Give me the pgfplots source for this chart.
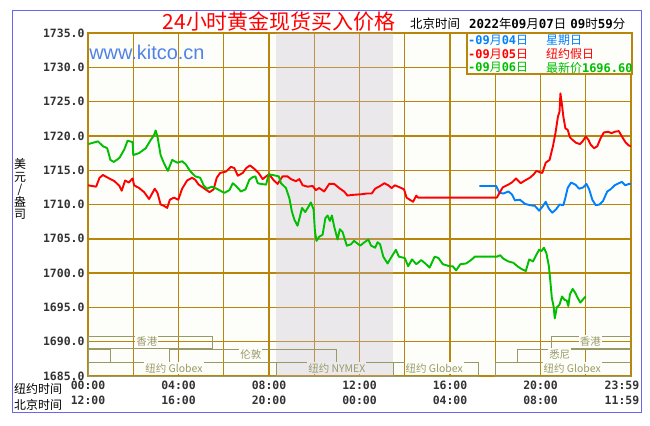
\documentclass[border=0pt]{standalone}
\usepackage{fontspec}
\setmainfont{Liberation Sans}
\newfontfamily\cjk{Noto Sans CJK SC}
\newfontfamily\tickf{DejaVu Sans Mono}
\usepackage{pgfplots}
\pgfplotsset{compat=1.18}

\definecolor{gridc}{RGB}{184,134,11}
\definecolor{sess}{RGB}{153,153,102}
\definecolor{shade}{RGB}{236,233,237}
\definecolor{shadeov}{RGB}{196,184,206}
\definecolor{plotbg}{RGB}{253,254,250}
\definecolor{c04}{RGB}{0,128,255}
\definecolor{c05}{RGB}{255,0,0}
\definecolor{c06}{RGB}{0,190,0}
\definecolor{framec}{RGB}{102,102,240}
\definecolor{kit}{RGB}{80,130,230}
\definecolor{tickc}{RGB}{51,51,51}

\newcommand\fs[1]{\fontsize{#1}{#1}\selectfont}
\newcommand\dg[1]{{\tickf\bfseries #1}}

\begin{document}
\begin{tikzpicture}[x=1bp,y=1bp]
\fill[white] (0,0) rectangle (650,425);
\draw[framec, line width=1bp] (12,13) rectangle (641,414);

\begin{axis}[
  at={(88bp,49bp)}, anchor=south west,
  width=543bp, height=343bp, scale only axis,
  xmin=0, xmax=24, ymin=1685, ymax=1735,
  axis background/.style={fill=plotbg},
  axis line style={gridc, line width=1.8bp},
  grid=major, grid style={gridc, line width=1.4bp},
  tick style={draw=none},
  xtick={0,2,...,24}, xticklabels={},
  extra x ticks={0,4,8,12,16,20,23.6},
  extra x tick labels={{00:00\\12:00},{04:00\\16:00},{08:00\\20:00},{12:00\\00:00},{16:00\\04:00},{20:00\\08:00},{23:59\\11:59}},
  extra x tick style={grid=none,
    xticklabel style={align=center, text=tickc, yshift=-1bp,
      font=\tickf\bfseries\fontsize{11.5}{16}\selectfont}},
  ytick={1685,1690,...,1735},
  yticklabel style={text=tickc, font=\tickf\bfseries\fs{11.5}},
  /pgf/number format/fixed,
  /pgf/number format/fixed zerofill,
  /pgf/number format/precision=1,
  /pgf/number format/1000 sep={},
  /pgf/number format/assume math mode=true,
]

% NYMEX trading hours (translucent so the grid shows through)
\addplot[fill=shadeov, fill opacity=0.3, draw=none]
  coordinates {(8.33,1685) (13.5,1685) (13.5,1735) (8.33,1735)} -- cycle;

% market sessions
\draw[sess, line width=1bp] (axis cs:0,1689) rectangle (axis cs:5.5,1690.75);
\draw[sess, line width=1bp] (axis cs:20.5,1689) rectangle (axis cs:24,1690.75);
\draw[sess, line width=1bp] (axis cs:0,1687) rectangle (axis cs:1,1688.9);
\draw[sess, line width=1bp] (axis cs:3.6,1687) rectangle (axis cs:11,1688.9);
\draw[sess, line width=1bp] (axis cs:19,1687) rectangle (axis cs:24,1688.9);
\draw[sess, line width=1bp] (axis cs:0,1685) rectangle (axis cs:8.33,1686.9);
\draw[sess, line width=1bp] (axis cs:8.33,1685) rectangle (axis cs:13.5,1686.9);
\draw[sess, line width=1bp] (axis cs:13.5,1685) rectangle (axis cs:17.25,1686.9);
\draw[sess, line width=1bp] (axis cs:18,1685) rectangle (axis cs:24,1686.9);
\tikzset{sl/.style={font=\cjk\fs{10.5}, text=sess, fill=plotbg, inner xsep=1bp, inner ysep=1.5bp}}
\node[sl] at (axis cs:2.6,1690.0) {香港};
\node[sl] at (axis cs:22.2,1690.0) {香港};
\node[sl] at (axis cs:7.2,1688.1) {伦敦};
\node[sl] at (axis cs:20.85,1688.1) {悉尼};
\node[sl] at (axis cs:3.8,1686.15) {纽约 Globex};
\node[sl, fill=shade] at (axis cs:11.0,1686.15) {纽约 NYMEX};
\node[sl] at (axis cs:15.3,1686.15) {纽约 Globex};
\node[sl] at (axis cs:21.4,1686.15) {纽约 Globex};

% 09月04日
\addplot[c04, line width=1.9bp, line join=round] coordinates {
(17.3,1712.7) (18.04,1712.7) (18.19,1711.7) (18.36,1711.6) (18.58,1711.9) (18.73,1711.5)
(18.87,1710.6) (19.09,1710.7) (19.31,1710.1) (19.53,1709.9) (19.75,1709.8) (19.94,1709.1)
(20.11,1709.8) (20.23,1710.4) (20.37,1709.4) (20.52,1708.8) (20.69,1709.3) (20.84,1710.0)
(21.01,1709.9) (21.1,1711.0) (21.2,1712.4) (21.35,1713.2) (21.54,1712.9) (21.71,1712.3)
(21.89,1712.5) (22.03,1713.0) (22.15,1712.2) (22.29,1710.7) (22.44,1709.9) (22.61,1710.0)
(22.76,1710.5) (22.95,1711.9) (23.09,1712.2) (23.28,1712.8) (23.46,1713.1) (23.6,1713.3)
(23.75,1712.8) (23.9,1713.0) (24,1713.0)
};

% 09月05日
\addplot[c05, line width=1.9bp, line join=round] coordinates {
(0,1712.8) (0.36,1712.6) (0.51,1713.9) (0.66,1714.3) (0.88,1713.9) (1.17,1713.4) (1.39,1712.7)
(1.49,1712.0) (1.64,1713.5) (1.8,1713.2) (1.97,1713.8) (2.04,1712.8) (2.26,1712.4) (2.48,1711.8)
(2.7,1710.8) (2.85,1711.7) (2.95,1712.3) (3.07,1711.7) (3.21,1710.0) (3.36,1709.8) (3.5,1709.5)
(3.62,1710.7) (3.8,1711.0) (3.99,1710.7) (4.16,1712.3) (4.38,1713.5) (4.6,1713.9) (4.74,1713.6)
(4.89,1712.9) (5.11,1712.4) (5.37,1711.8) (5.55,1712.2) (5.69,1713.9) (5.84,1714.6) (6.1,1714.8)
(6.32,1715.5) (6.47,1715.3) (6.62,1714.2) (6.84,1714.6) (6.99,1715.3) (7.16,1715.7) (7.35,1715.2)
(7.54,1714.6) (7.72,1713.7) (7.87,1714.1) (8.01,1714.4) (8.19,1713.6) (8.38,1713.0) (8.6,1714.1)
(8.82,1714.1) (8.97,1713.7) (9.19,1713.4) (9.34,1713.7) (9.49,1712.8) (9.71,1712.6) (9.93,1712.7)
(10.07,1712.1) (10.22,1712.4) (10.44,1711.9) (10.66,1713.0) (10.88,1713.0) (11.1,1712.4)
(11.32,1711.9) (11.47,1711.3) (11.69,1711.4) (12.1,1711.5) (12.32,1711.6) (12.54,1711.6)
(12.69,1712.3) (12.91,1712.7) (13.1,1713.1) (13.27,1712.8) (13.42,1712.4) (13.56,1712.8)
(13.78,1712.5) (13.97,1712.2) (14.08,1711.0) (14.22,1710.7) (14.37,1710.4) (14.51,1711.3)
(14.59,1711.0) (18.07,1711.0) (18.19,1711.7) (18.33,1712.5) (18.58,1712.9) (18.73,1713.2)
(18.92,1713.8) (19.12,1713.1) (19.31,1713.5) (19.53,1713.9) (19.7,1714.4) (19.82,1714.9)
(19.97,1714.7) (20.08,1714.6) (20.23,1716.1) (20.4,1716.5) (20.55,1718.5) (20.66,1720.4)
(20.77,1722.8) (20.84,1723.5) (20.88,1726.2) (20.95,1724.5) (21.01,1722.8) (21.1,1721.1)
(21.2,1720.9) (21.3,1719.8) (21.42,1719.4) (21.57,1719.0) (21.74,1718.8) (21.86,1719.2)
(22.0,1719.9) (22.12,1719.4) (22.22,1718.7) (22.37,1718.2) (22.51,1718.5) (22.66,1719.7)
(22.8,1720.5) (22.99,1720.6) (23.14,1720.4) (23.28,1720.6) (23.46,1720.7) (23.6,1719.9)
(23.75,1719.1) (23.9,1718.6) (24,1718.5)
};

% 09月06日
\addplot[c06, line width=1.9bp, line join=round] coordinates {
(0,1718.8) (0.44,1719.2) (0.66,1718.5) (0.85,1718.2) (0.99,1716.5) (1.14,1716.2) (1.39,1716.8)
(1.6,1718.0) (1.75,1719.3) (1.97,1719.1) (2.0,1717.2) (2.26,1717.5) (2.55,1718.2) (2.77,1719.4)
(2.92,1720.1) (2.99,1720.8) (3.07,1719.9) (3.21,1717.2) (3.36,1716.0) (3.53,1714.9) (3.72,1716.5)
(3.94,1716.1) (4.16,1716.3) (4.31,1715.9) (4.53,1714.8) (4.74,1714.1) (4.96,1713.9) (5.11,1712.8)
(5.26,1712.3) (5.47,1712.6) (5.69,1712.3) (5.91,1711.9) (6.03,1711.7) (6.25,1712.1) (6.4,1713.1)
(6.54,1712.7) (6.76,1711.9) (6.96,1712.2) (7.13,1713.6) (7.28,1714.0) (7.4,1714.1) (7.5,1713.1)
(7.65,1713.0) (7.87,1712.9) (7.99,1714.4) (8.16,1714.3) (8.43,1714.1) (8.53,1713.1) (8.75,1712.4)
(8.9,1710.9) (9.01,1709.0) (9.12,1707.8) (9.26,1706.9) (9.37,1708.3) (9.46,1709.5) (9.6,1708.9)
(9.75,1709.7) (9.85,1710.3) (9.97,1709.3) (10.03,1706.1) (10.1,1704.7) (10.22,1705.3)
(10.37,1705.6) (10.49,1708.0) (10.59,1708.4) (10.69,1707.6) (10.78,1708.4) (10.88,1706.8)
(11.03,1704.9) (11.13,1706.4) (11.25,1706.0) (11.44,1704.0) (11.62,1704.2) (11.76,1704.7)
(12.03,1704.0) (12.18,1704.4) (12.39,1704.9) (12.51,1704.0) (12.69,1703.7) (12.8,1704.5)
(12.91,1704.2) (13.05,1702.4) (13.24,1701.4) (13.42,1702.4) (13.61,1703.4) (13.74,1702.4)
(14.0,1702.2) (14.15,1701.0) (14.32,1702.0) (14.51,1701.3) (14.73,1701.9) (14.91,1701.4)
(15.1,1700.8) (15.32,1702.4) (15.49,1702.2) (15.68,1701.3) (15.98,1701.0) (16.12,1701.0)
(16.27,1700.4) (16.46,1701.3) (16.71,1701.4) (16.93,1701.9) (17.1,1702.4) (18.07,1702.4)
(18.22,1702.6) (18.36,1702.1) (18.58,1701.7) (18.8,1701.5) (19.02,1700.9) (19.16,1700.6)
(19.35,1700.3) (19.5,1702.0) (19.67,1701.7) (19.82,1702.7) (19.94,1703.4) (20.04,1703.2)
(20.15,1703.7) (20.26,1702.9) (20.37,1701.0) (20.43,1699.0) (20.5,1696.4) (20.58,1695.1)
(20.63,1693.4) (20.72,1695.0) (20.84,1695.4) (20.95,1696.6) (21.06,1696.1) (21.16,1696.0)
(21.23,1695.2) (21.3,1696.9) (21.42,1697.7) (21.54,1697.1) (21.64,1696.4) (21.76,1695.7)
(21.86,1696.1) (22.0,1696.6)
};

\node[anchor=west, font=\fs{20}, text=kit, inner sep=0pt] at (axis cs:0.05,1732.2) {www.kitco.cn};
\end{axis}

% title and time stamp
\node[font=\cjk\fs{21}, text=c05] at (279,403) {24小时黄金现货买入价格};
\node[anchor=west, font=\fs{12.5}, inner sep=0pt] at (410,401)
  {{\cjk 北京时间}\hspace{9bp}\dg{2022}{\cjk 年}\dg{09}{\cjk 月}\dg{07}{\cjk 日}\hspace{4bp}\dg{09}{\cjk 时}\dg{59}{\cjk 分}};

% legend
\draw[gridc, line width=1.4bp, fill=plotbg] (467,351) rectangle (632,392);
\begin{scope}[every node/.style={anchor=west, inner sep=0pt, font=\fs{12}}]
\node[text=c04] at (468,384.5) {\dg{-09}{\cjk 月}\dg{04}{\cjk 日}};
\node[text=c05] at (468,371) {\dg{-09}{\cjk 月}\dg{05}{\cjk 日}};
\node[text=c06] at (468,357.5) {\dg{-09}{\cjk 月}\dg{06}{\cjk 日}};
\node[text=c04] at (546,384.5) {\cjk 星期日};
\node[text=c05] at (546,371) {\cjk 纽约假日};
\node[text=c06] at (546,357.5) {{\cjk 最新价}\dg{1696.60}};
\end{scope}

% axis titles
\node[align=center, font=\cjk\fontsize{12}{12.5}\selectfont] at (20,236) {美\\元\\/\\盎\\司};
\node[anchor=west, font=\cjk\fs{12}, inner sep=0pt] at (14,36) {纽约时间};
\node[anchor=west, font=\cjk\fs{12}, inner sep=0pt] at (14,20) {北京时间};
\end{tikzpicture}
\end{document}
